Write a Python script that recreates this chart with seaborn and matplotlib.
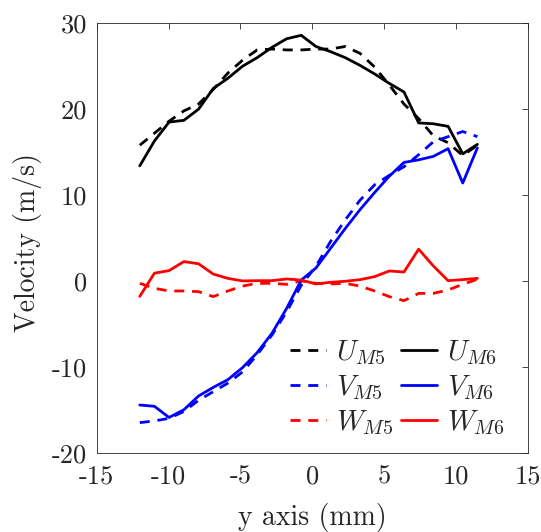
import matplotlib
matplotlib.use("Agg")
import matplotlib.pyplot as plt
import seaborn as sns
import pandas as pd

# ---- data ----
y_mm = [-12.0, -10.98, -9.96, -8.93, -7.91, -6.89, -5.87, -4.85, -3.83, -2.80,
        -1.78, -0.76, 0.26, 1.28, 2.30, 3.33, 4.35, 5.37, 6.39, 7.41, 8.43,
        9.46, 10.48, 11.5]

U_M5 = [15.8, 17.2, 18.6, 19.8, 20.6, 22.3, 24.2, 25.7, 26.9, 27.0, 26.9, 26.9,
        27.0, 27.0, 27.3, 26.5, 24.9, 22.8, 20.6, 18.9, 16.9, 16.1, 14.6, 15.8]
U_M6 = [13.4, 16.3, 18.5, 18.7, 20.0, 22.4, 23.6, 25.0, 26.0, 27.2, 28.2, 28.6,
        27.3, 26.7, 26.0, 25.1, 24.1, 23.0, 22.0, 18.4, 18.3, 18.0, 14.8, 15.9]
V_M5 = [-16.5, -16.3, -16.0, -15.2, -13.9, -12.9, -11.9, -10.6, -8.6, -6.3, -3.6,
        -0.5, 1.7, 4.6, 7.1, 9.4, 11.2, 12.3, 13.3, 14.7, 16.2, 16.8, 17.4, 16.8]
V_M6 = [-14.45, -14.6, -15.9, -15.0, -13.4, -12.4, -11.5, -10.1, -8.35, -6.1, -3.2,
        0.1, 1.5, 3.8, 6.1, 8.3, 10.3, 12.2, 13.8, 14.1, 14.5, 15.4, 11.4, 15.5]
W_M5 = [-0.28, -0.86, -1.17, -1.17, -1.25, -1.83, -1.17, -0.6, -0.28, -0.28, -0.4,
        0.0, -0.28, -0.35, -0.28, -0.6, -1.17, -1.83, -2.3, -1.45, -1.45, -1.05,
        -0.4, 0.2]
W_M6 = [-1.8, 0.9, 1.2, 2.25, 2.0, 0.8, 0.3, 0.0, 0.03, 0.03, 0.23, 0.1, -0.35,
        -0.16, -0.04, 0.15, 0.5, 1.16, 1.04, 3.7, 1.75, 0.03, 0.15, 0.3]

labels = ["$U_{M5}$", "$V_{M5}$", "$W_{M5}$", "$U_{M6}$", "$V_{M6}$", "$W_{M6}$"]
values = [U_M5, V_M5, W_M5, U_M6, V_M6, W_M6]
colors = ["black", "#0000ff", "#ff0000", "black", "#0000ff", "#ff0000"]
dashed = [True, True, True, False, False, False]

xticks = [-15, -10, -5, 0, 5, 10, 15]
yticks = [-20, -10, 0, 10, 20, 30]

# ---- style ----
sns.set_style("white")
plt.rcParams.update({
    "font.family": ["cmr10", "DejaVu Serif"],
    "mathtext.fontset": "cm",
    "axes.unicode_minus": False,
    "axes.formatter.use_mathtext": False,
})

fig = plt.figure(figsize=(5.41, 5.32), dpi=100)
ax = fig.add_axes([0.1787, 0.1491, 0.7967, 0.8071])

lw = 2.0
for lab, vals, col, d in zip(labels, values, colors, dashed):
    df = pd.DataFrame({"y": y_mm, "v": vals})
    sns.lineplot(data=df, x="y", y="v", ax=ax, color=col, linewidth=lw,
                 linestyle=(0, (3.6, 2.8)) if d else "-", label=lab,
                 estimator=None, sort=False)

ax.set_xlim(-15, 15)
ax.set_ylim(-20, 30)
ax.set_xticks(xticks, labels=[str(t) for t in xticks])
ax.set_yticks(yticks, labels=[str(t) for t in yticks])

tc = "#262626"
ax.tick_params(direction="in", top=True, right=True, length=4.5, width=0.6,
               labelsize=19, colors=tc)
ax.tick_params(axis="x", pad=9)
ax.tick_params(axis="y", pad=7)
for s in ax.spines.values():
    s.set_linewidth(0.6)
    s.set_color(tc)
    s.set_visible(True)

ax.set_xlabel("y axis (mm)", fontsize=20, color=tc)
ax.set_ylabel("Velocity (m/s)", fontsize=20, color=tc)
ax.xaxis.set_label_coords(0.5, -0.118)
ax.yaxis.set_label_coords(-0.127, 0.49)

handles, labs = ax.get_legend_handles_labels()
ax.legend(handles, labs, ncol=2, loc="center", bbox_to_anchor=(0.697, 0.151),
          frameon=False, fontsize=20.5, handlelength=1.25, handletextpad=0.35,
          columnspacing=0.3, labelspacing=0.25, borderpad=0)

fig.savefig("out.png", dpi=100)
